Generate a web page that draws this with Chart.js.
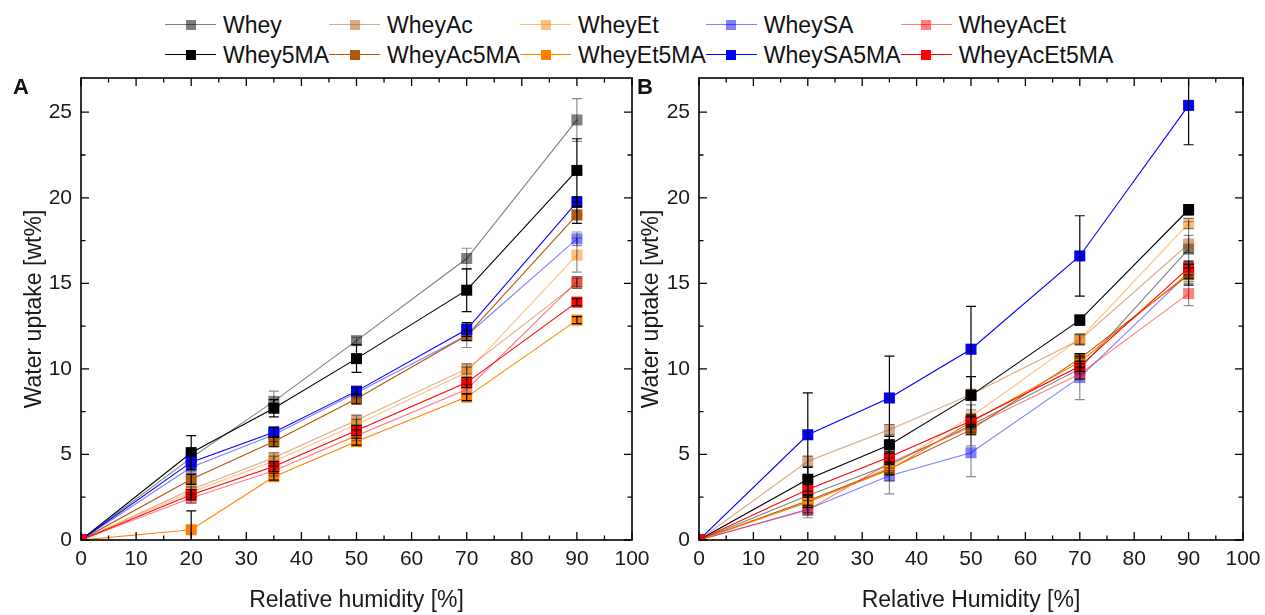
<!DOCTYPE html>
<html>
<head>
<meta charset="utf-8">
<script src="https://cdn.jsdelivr.net/npm/chart.js@4/dist/chart.umd.min.js"></script>
<style>
  body { margin: 0; background: #fff; font-family: "Liberation Sans", Arial, sans-serif; }
  #wrap { position: relative; width: 1265px; height: 615px; overflow: hidden; }
  #legend { position: absolute; top: 10px; left: 165px; display: grid; grid-template-columns: repeat(5, auto); }
  .item { display: flex; align-items: flex-start; height: 30px; line-height: 30px; font-size: 23px; color: #111; white-space: nowrap; }
  .sym { position: relative; width: 51px; height: 30px; margin-right: 7px; flex: none; }
  .sym .ln { position: absolute; left: 0; right: 0; top: 14px; height: 1.4px; }
  .sym .sq { position: absolute; left: 20.5px; top: 9.8px; width: 10px; height: 10px; }
  canvas { position: absolute; top: 0; }
  .tag { position: absolute; top: 76px; font-size: 22px; line-height: 22px; font-weight: bold; color: #111; }
</style>
</head>
<body>
<div id="wrap">
  <div id="legend"></div>
  <canvas id="chartA" width="660" height="615" style="left:0"></canvas>
  <canvas id="chartB" width="645" height="615" style="left:620px"></canvas>
  <div class="tag" style="left:13px">A</div>
  <div class="tag" style="left:637px">B</div>
</div>
<script>
const humidity = [0, 20, 35, 50, 70, 90];
const xTicks = [0, 10, 20, 30, 40, 50, 60, 70, 80, 90, 100];
const yTicks = [0, 5, 10, 15, 20, 25];

const seriesNames = ['Whey', 'WheyAc', 'WheyEt', 'WheySA', 'WheyAcEt',
  'Whey5MA', 'WheyAc5MA', 'WheyEt5MA', 'WheySA5MA', 'WheyAcEt5MA'];
const seriesColors = ['rgba(0,0,0,0.5)', 'rgba(176,88,14,0.5)', 'rgba(255,128,0,0.5)', 'rgba(0,0,255,0.5)', 'rgba(255,0,0,0.5)',
  '#000000', '#b0580e', '#ff8000', '#0000ff', '#ff0000'];

// panel A: water uptake [wt%]
const wheyA        = [0, 4.8, 8.1, 11.65, 16.45, 24.55];
const wheyAcA      = [0, 2.95, 4.8, 7.0, 10.0, 15.0];
const wheyEtA      = [0, 2.8, 4.6, 6.75, 9.8, 16.65];
const wheySAA      = [0, 4.25, 6.15, 8.6, 11.95, 17.6];
const wheyAcEtA    = [0, 2.45, 4.05, 6.1, 8.8, 15.1];
const whey5MAA     = [0, 5.1, 7.7, 10.6, 14.6, 21.6];
const wheyAc5MAA   = [0, 3.55, 5.75, 8.25, 11.95, 19.0];
const wheyEt5MAA   = [0, 0.6, 3.7, 5.75, 8.35, 12.85];
const wheySA5MAA   = [0, 4.55, 6.3, 8.7, 12.3, 19.75];
const wheyAcEt5MAA = [0, 2.65, 4.3, 6.4, 9.2, 13.9];

// panel A: standard deviations
const errWheyA        = [0, 0.6, 0.6, 0.2, 0.6, 1.25];
const errWheyAcA      = [0, 0.3, 0.3, 0.3, 0.3, 0.3];
const errWheyEtA      = [0, 0.3, 0.3, 0.3, 0.3, 1.0];
const errWheySAA      = [0, 0.4, 0.4, 0.3, 0.7, 0.4];
const errWheyAcEtA    = [0, 0.3, 0.3, 0.3, 0.3, 0.3];
const errWhey5MAA     = [0, 1.0, 0.5, 0.8, 1.25, 1.85];
const errWheyAc5MAA   = [0, 0.3, 0.3, 0.3, 0.3, 0.5];
const errWheyEt5MAA   = [0, 1.1, 0.2, 0.2, 0.2, 0.2];
const errWheySA5MAA   = [0, 0.4, 0.3, 0.2, 0.4, 0.3];
const errWheyAcEt5MAA = [0, 0.3, 0.3, 0.3, 0.3, 0.2];

// panel B: water uptake [wt%]
const wheyB        = [0, 2.6, 4.4, 6.7, 10.0, 17.0];
const wheyAcB      = [0, 4.6, 6.45, 8.5, 11.7, 17.3];
const wheyEtB      = [0, 2.2, 4.25, 7.2, 11.75, 18.5];
const wheySAB      = [0, 1.8, 3.75, 5.1, 9.5, 15.6];
const wheyAcEtB    = [0, 1.75, 4.5, 6.6, 9.7, 14.4];
const whey5MAB     = [0, 3.55, 5.55, 8.45, 12.85, 19.3];
const wheyAc5MAB   = [0, 2.3, 4.15, 6.45, 10.6, 15.5];
const wheyEt5MAB   = [0, 2.2, 4.1, 6.9, 10.4, 15.6];
const wheySA5MAB   = [0, 6.15, 8.3, 11.15, 16.6, 25.4];
const wheyAcEt5MAB = [0, 2.95, 4.85, 6.95, 10.15, 15.9];

// panel B: standard deviations
const errWheyB        = [0, 1.0, 1.7, 1.2, 0.6, 1.6];
const errWheyAcB      = [0, 0.3, 0.3, 0.3, 0.3, 0.5];
const errWheyEtB      = [0, 0.3, 0.3, 0.4, 0.3, 0.3];
const errWheySAB      = [0, 0.5, 0.3, 1.4, 1.3, 0.6];
const errWheyAcEtB    = [0, 0.3, 0.3, 0.3, 0.3, 0.7];
const errWhey5MAB     = [0, 0.7, 0.5, 1.1, 0.3, 0.3];
const errWheyAc5MAB   = [0, 0.3, 0.3, 0.3, 0.3, 0.6];
const errWheyEt5MAB   = [0, 0.3, 0.3, 0.3, 0.3, 0.3];
const errWheySA5MAB   = [0, 2.45, 2.45, 2.5, 2.35, 2.3];
const errWheyAcEt5MAB = [0, 0.3, 0.3, 0.3, 0.3, 0.4];

const FONT = '"Liberation Sans", Arial, sans-serif';

// legend: two rows sharing five columns
const legend = document.getElementById('legend');
seriesNames.forEach((name, i) => {
  const item = document.createElement('div');
  item.className = 'item';
  item.innerHTML = '<span class="sym"><span class="ln" style="background:' + seriesColors[i] +
    '"></span><span class="sq" style="background:' + seriesColors[i] + '"></span></span>' + name;
  legend.appendChild(item);
});

function buildDatasets(values, errors) {
  return values.map((vals, i) => ({
    label: seriesNames[i],
    data: humidity.map((h, j) => ({ x: h, y: vals[j] })),
    errors: errors[i],
    errColor: i < 5 ? 'rgba(0,0,0,0.45)' : '#000',
    showLine: true,
    borderColor: seriesColors[i],
    backgroundColor: seriesColors[i],
    borderWidth: 1.1,
    pointStyle: 'rect',
    pointRadius: 7.8,
    pointBorderWidth: 0,
    pointBackgroundColor: seriesColors[i],
    order: 10 - i
  }));
}

// vertical error bars with caps, drawn over the symbols
const errorBars = {
  id: 'errorBars',
  afterDatasetsDraw(chart) {
    const { ctx, chartArea: a, scales: { y } } = chart;
    ctx.save();
    ctx.beginPath();
    ctx.rect(a.left, a.top, a.right - a.left, a.bottom - a.top);
    ctx.clip();
    ctx.lineWidth = 1.2;
    chart.data.datasets.forEach((ds, i) => {
      const meta = chart.getDatasetMeta(i);
      ctx.strokeStyle = ds.errColor;
      meta.data.forEach((pt, j) => {
        const e = ds.errors[j];
        if (!e) return;
        const v = ds.data[j].y;
        const yt = y.getPixelForValue(v + e);
        const yb = y.getPixelForValue(v - e);
        ctx.beginPath();
        ctx.moveTo(pt.x, yt); ctx.lineTo(pt.x, yb);
        ctx.moveTo(pt.x - 5, yt); ctx.lineTo(pt.x + 5, yt);
        ctx.moveTo(pt.x - 5, yb); ctx.lineTo(pt.x + 5, yb);
        ctx.stroke();
      });
    });
    ctx.restore();
  }
};

// closed frame with inward major and minor ticks on all four sides
const frame = {
  id: 'frame',
  afterDraw(chart) {
    const { ctx, chartArea: a, scales: { x, y } } = chart;
    ctx.save();
    ctx.strokeStyle = '#000';
    ctx.lineWidth = 1.6;
    ctx.strokeRect(a.left, a.top, a.right - a.left, a.bottom - a.top);
    ctx.lineWidth = 1.3;
    ctx.beginPath();
    const xs = [];
    xTicks.forEach((v, k) => {
      xs.push([v, 8]);
      if (k < xTicks.length - 1) xs.push([(v + xTicks[k + 1]) / 2, 4.5]);
    });
    xs.forEach(([v, len]) => {
      const px = x.getPixelForValue(v);
      ctx.moveTo(px, a.bottom); ctx.lineTo(px, a.bottom - len);
      ctx.moveTo(px, a.top); ctx.lineTo(px, a.top + len);
    });
    const ys = [];
    yTicks.forEach(v => {
      ys.push([v, 8]);
      ys.push([v + 2.5, 4.5]);
    });
    ys.forEach(([v, len]) => {
      if (v > y.max) return;
      const py = y.getPixelForValue(v);
      ctx.moveTo(a.left, py); ctx.lineTo(a.left + len, py);
      ctx.moveTo(a.right, py); ctx.lineTo(a.right - len, py);
    });
    ctx.stroke();
    ctx.restore();
  }
};

function makeChart(id, values, errors, cfg) {
  return new Chart(document.getElementById(id), {
    type: 'scatter',
    data: { datasets: buildDatasets(values, errors) },
    options: {
      responsive: false,
      animation: false,
      devicePixelRatio: 1,
      layout: { padding: { left: 0, right: cfg.padRight, top: 78, bottom: 0 } },
      plugins: { legend: { display: false }, tooltip: { enabled: false } },
      scales: {
        x: {
          type: 'linear', min: 0, max: 100,
          grid: { display: false, drawTicks: false },
          border: { display: false },
          afterBuildTicks: s => { s.ticks = xTicks.map(v => ({ value: v })); },
          afterFit: s => { s.height = 75; s.paddingLeft = 0; s.paddingRight = 0; },
          ticks: { padding: 7, color: '#1a1a1a', autoSkip: false, maxRotation: 0, font: { family: FONT, size: 21 } },
          title: { display: true, text: cfg.xTitle, color: '#1a1a1a', padding: { top: 0, bottom: 1 }, font: { family: FONT, size: 23 } }
        },
        y: {
          type: 'linear', min: 0, max: 27,
          grid: { display: false, drawTicks: false },
          border: { display: false },
          afterBuildTicks: s => { s.ticks = yTicks.map(v => ({ value: v })); },
          afterFit: s => { s.width = cfg.yWidth; s.paddingTop = 0; s.paddingBottom = 0; },
          ticks: { padding: 9, color: '#1a1a1a', font: { family: FONT, size: 21 } },
          title: { display: true, text: 'Water uptake [wt%]', color: '#1a1a1a', padding: { top: cfg.yTitlePad, bottom: 0 }, font: { family: FONT, size: 23 } }
        }
      }
    },
    plugins: [errorBars, frame]
  });
}

makeChart('chartA',
  [wheyA, wheyAcA, wheyEtA, wheySAA, wheyAcEtA, whey5MAA, wheyAc5MAA, wheyEt5MAA, wheySA5MAA, wheyAcEt5MAA],
  [errWheyA, errWheyAcA, errWheyEtA, errWheySAA, errWheyAcEtA, errWhey5MAA, errWheyAc5MAA, errWheyEt5MAA, errWheySA5MAA, errWheyAcEt5MAA],
  { padRight: 28, yWidth: 81, yTitlePad: 21, xTitle: 'Relative humidity [%]' });

makeChart('chartB',
  [wheyB, wheyAcB, wheyEtB, wheySAB, wheyAcEtB, whey5MAB, wheyAc5MAB, wheyEt5MAB, wheySA5MAB, wheyAcEt5MAB],
  [errWheyB, errWheyAcB, errWheyEtB, errWheySAB, errWheyAcEtB, errWhey5MAB, errWheyAc5MAB, errWheyEt5MAB, errWheySA5MAB, errWheyAcEt5MAB],
  { padRight: 22, yWidth: 79, yTitlePad: 18, xTitle: 'Relative Humidity [%]' });
</script>
</body>
</html>
